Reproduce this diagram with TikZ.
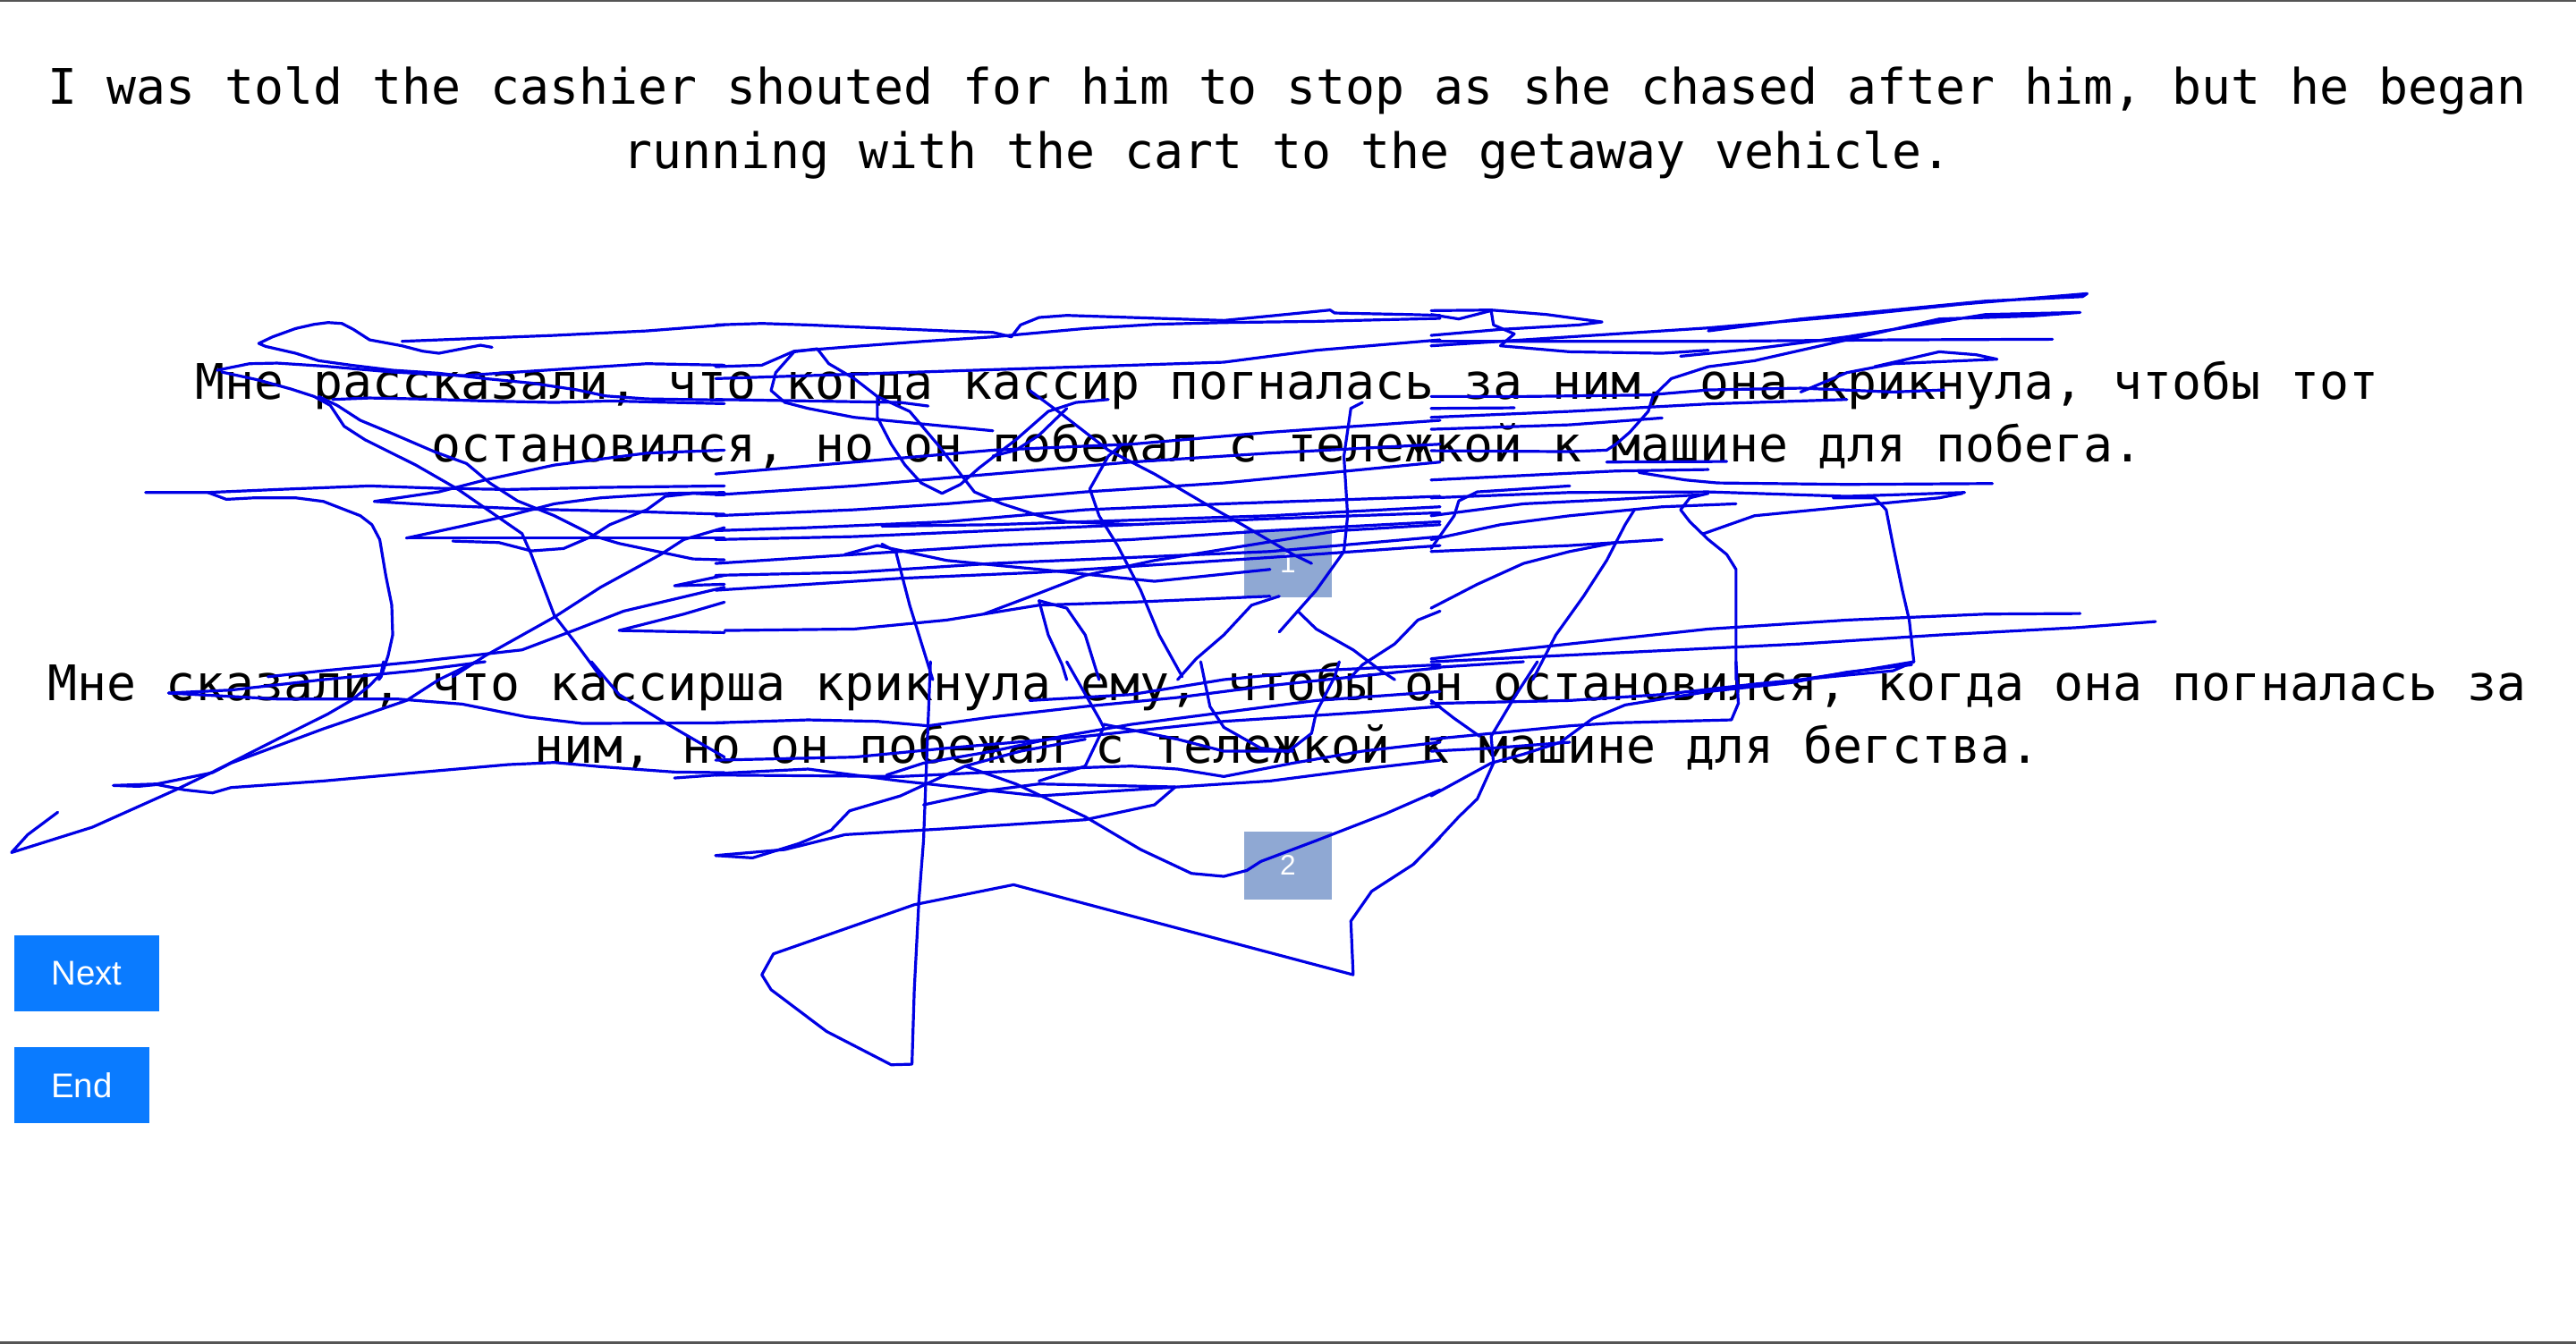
\documentclass[tikz,border=0pt]{standalone}
\usepackage{fontspec}
\setmonofont{DejaVu Sans Mono}
\newfontfamily\btnfont{Liberation Sans}
\definecolor{ink}{RGB}{0,0,228}
\definecolor{btnblue}{RGB}{10,123,255}
\definecolor{numblue}{RGB}{143,168,211}
\definecolor{edgegray}{RGB}{85,85,85}
\tikzset{
  txt/.style={anchor=base,inner sep=0pt,font=\fontsize{13.7}{17}\selectfont\ttfamily},
  numbox/.style={fill=numblue,draw=none,minimum width=24.5pt,minimum height=19pt,inner sep=0pt,text=white,font=\btnfont\fontsize{7.9}{9}\selectfont},
  btn/.style={fill=btnblue,draw=none,minimum height=21.3pt,inner sep=0pt,text=white,font=\btnfont\fontsize{9.6}{11}\selectfont},
  scrib/.style={draw=ink,line width=0.8pt,line join=round,line cap=round},
  zoomA/.style={xscale=0.2812,yscale=0.1815}
}
\begin{document}
\begin{tikzpicture}[x=0.4592pt,y=-0.4592pt]
\useasboundingbox (0,0) rectangle (1568,818);
\fill[white] (0,0) rectangle (1568,818);
\draw[edgegray,line width=0.6pt] (0,0.6) -- (1568,0.6);
\draw[edgegray,line width=0.6pt] (0,817.4) -- (1568,817.4);

% texts
\node[txt] (e1) at (783.5,63.7) {I was told the cashier shouted for him to stop as she chased after him, but he began};
\node[txt] (e2) at (783.5,102.4) {running with the cart to the getaway vehicle.};
\node[txt] (r1) at (783.5,243.3) {Мне рассказали, что когда кассир погналась за ним, она крикнула, чтобы тот};
\node[txt] (r2) at (783.5,281.3) {остановился, но он побежал с тележкой к машине для побега.};
\node[txt] (s1) at (783.5,426.5) {Мне сказали, что кассирша крикнула ему, чтобы он остановился, когда она погналась за};
\node[txt] (s2) at (783.5,464.6) {ним, но он побежал с тележкой к машине для бегства.};

% number boxes
\node[numbox] (b1) at (784,343) {1};
\node[numbox] (b2) at (784,526.8) {2};

% buttons
\node[btn,minimum width=40.5pt] (next) at (52.8,592.7) {Next};
\node[btn,minimum width=37.7pt] (end) at (49.8,660.7) {End};

% scribble, region 1
\begin{scope}[shift={(0,168.8)},zoomA]
\draw[scrib] (1065,235) -- (1040,228) -- (1000,240) -- (950,255) -- (915,248) -- (870,230) -- (800,210) -- (765,175) -- (740,155) -- (710,152) -- (680,158) -- (640,172) -- (590,200) -- (560,222) -- (575,232) -- (640,255) -- (690,280) -- (760,295) -- (850,312) -- (950,322) -- (1050,340) -- (1150,355) -- (1250,378) -- (1310,398) -- (1400,408) -- (1568,412);
\draw[scrib] (870,215) -- (1000,207) -- (1200,195) -- (1400,180) -- (1500,168) -- (1568,160);
\draw[scrib] (470,312) -- (540,290) -- (600,288) -- (700,298) -- (850,318) -- (1000,330) -- (1200,310) -- (1400,290) -- (1568,295);
\draw[scrib] (480,318) -- (560,345) -- (630,375) -- (680,400) -- (715,430) -- (745,500) -- (790,545) -- (900,630) -- (990,710) -- (1060,785) -- (1130,860) -- (1150,930) -- (1200,1135) -- (1250,1235) -- (1300,1340);
\draw[scrib] (690,400) -- (730,430) -- (780,480) -- (850,525) -- (940,585) -- (1010,625) -- (1060,690) -- (1120,750) -- (1200,800) -- (1290,870) -- (1340,893) -- (1500,945) -- (1568,948);
\draw[scrib] (720,410) -- (800,405) -- (900,408) -- (1050,415) -- (1200,420) -- (1320,415) -- (1568,424);
\draw[scrib] (315,722) -- (450,722) -- (600,712) -- (800,700) -- (950,708) -- (1100,712) -- (1300,705) -- (1568,700);
\draw[scrib] (450,722) -- (490,745) -- (550,740) -- (640,740) -- (700,752) -- (780,800) -- (805,830) -- (822,880) -- (835,1000) -- (848,1100) -- (850,1200) -- (840,1270) -- (825,1340) -- (820,1350);
\draw[scrib] (1568,580) -- (1400,590) -- (1200,630) -- (1050,680) -- (950,720) -- (810,752) -- (950,765) -- (1150,778) -- (1350,785) -- (1568,795);
\draw[scrib] (880,875) -- (1000,835) -- (1100,800) -- (1200,760) -- (1300,740) -- (1450,725) -- (1568,722);
\draw[scrib] (880,875) -- (1200,875) -- (1568,875);
\draw[scrib] (980,885) -- (1080,890) -- (1150,918) -- (1220,910) -- (1280,870) -- (1320,830) -- (1400,780) -- (1440,735) -- (1500,725) -- (1568,730);
\draw[scrib] (1568,1000) -- (1460,1035) -- (1568,1030);
\draw[scrib] (1568,1090) -- (1480,1130) -- (1340,1185) -- (1568,1192);
\draw[scrib] (1568,1040) -- (1350,1120) -- (1250,1180) -- (1130,1250) -- (900,1290) -- (700,1320) -- (580,1340);
\draw[scrib] (1568,840) -- (1480,880) -- (1430,930) -- (1300,1040) -- (1200,1140) -- (1050,1270) -- (980,1340);
\end{scope}

% region 2
\begin{scope}[shift={(435.6,168.8)},zoomA]
\draw[scrib] (0,160) -- (100,155) -- (200,160) -- (350,170) -- (500,180) -- (600,185) -- (640,200) -- (660,160) -- (700,135) -- (760,128) -- (900,135) -- (1000,140) -- (1100,145) -- (1200,130) -- (1330,110) -- (1340,120) -- (1500,125) -- (1568,128);
\draw[scrib] (0,300) -- (100,295) -- (170,248) -- (300,232) -- (450,215) -- (600,200) -- (800,172) -- (950,158) -- (1100,152) -- (1300,148) -- (1568,138);
\draw[scrib] (220,240) -- (170,250) -- (130,320) -- (120,380) -- (150,420) -- (200,440) -- (300,470) -- (400,485) -- (500,500) -- (600,515);
\draw[scrib] (220,240) -- (245,290) -- (300,340) -- (350,400) -- (350,470) -- (380,560) -- (410,630) -- (445,690) -- (490,725) -- (530,695) -- (570,640) -- (650,545) -- (720,450) -- (780,420) -- (850,410);
\draw[scrib] (0,410) -- (200,415) -- (400,420) -- (460,432);
\draw[scrib] (350,400) -- (420,450) -- (480,560) -- (520,640) -- (560,720) -- (620,760) -- (700,800) -- (760,820) -- (900,830);
\draw[scrib] (680,380) -- (750,460) -- (850,580) -- (950,660) -- (1060,760) -- (1140,830) -- (1250,930) -- (1290,960);
\draw[scrib] (880,560) -- (850,600) -- (810,710) -- (830,800) -- (870,900) -- (920,1050) -- (960,1200) -- (1010,1340);
\draw[scrib] (760,440) -- (700,530) -- (650,580) -- (600,600);
\draw[scrib] (0,660) -- (300,620) -- (600,580) -- (900,560) -- (1200,520) -- (1568,480);
\draw[scrib] (0,730) -- (300,700) -- (600,660) -- (900,620) -- (1200,590) -- (1568,560);
\draw[scrib] (0,800) -- (300,780) -- (500,760) -- (800,720) -- (1100,690) -- (1300,660) -- (1568,620);
\draw[scrib] (0,850) -- (200,840) -- (500,820) -- (800,780) -- (1100,760) -- (1568,735);
\draw[scrib] (0,880) -- (300,870) -- (600,850) -- (900,830) -- (1200,810) -- (1568,790);
\draw[scrib] (360,835) -- (600,830) -- (900,815) -- (1200,800) -- (1568,770);
\draw[scrib] (0,960) -- (300,930) -- (600,900) -- (900,880) -- (1200,850) -- (1568,820);
\draw[scrib] (0,1000) -- (300,990) -- (600,960) -- (900,940) -- (1200,920) -- (1568,870);
\draw[scrib] (280,930) -- (350,900) -- (500,950) -- (700,980) -- (950,1020) -- (1200,980);
\draw[scrib] (0,1050) -- (400,1010) -- (700,990) -- (1000,960) -- (1200,940) -- (1568,900);
\draw[scrib] (20,1185) -- (300,1180) -- (500,1150) -- (700,1100) -- (900,1090) -- (1200,1070);
\draw[scrib] (580,1130) -- (700,1060) -- (800,1000) -- (950,950) -- (1150,900) -- (1350,850) -- (1568,830);
\draw[scrib] (360,895) -- (390,920) -- (420,1100) -- (450,1250) -- (470,1350);
\draw[scrib] (700,1085) -- (760,1110) -- (800,1200) -- (830,1350);
\draw[scrib] (700,1085) -- (720,1200) -- (750,1300) -- (760,1350);
\draw[scrib] (1220,1070) -- (1160,1100) -- (1100,1200) -- (1040,1280) -- (1000,1350);
\draw[scrib] (1220,1190) -- (1300,1050) -- (1360,920) -- (1368,800) -- (1360,600) -- (1375,440) -- (1400,420);
\draw[scrib] (1260,1120) -- (1300,1180) -- (1380,1250) -- (1440,1320) -- (1470,1350);
\draw[scrib] (1568,1120) -- (1520,1150) -- (1470,1230) -- (1400,1300) -- (1370,1350);
\draw[scrib] (0,340) -- (400,320) -- (800,300) -- (1100,285) -- (1300,245) -- (1568,210);
\end{scope}

% region 3
\begin{scope}[shift={(871.1,168.8)},zoomA]
\draw[scrib] (0,125) -- (60,140) -- (130,112) -- (135,160) -- (180,190) -- (150,230) -- (300,250) -- (500,255) -- (600,245);
\draw[scrib] (0,112) -- (130,110) -- (250,125) -- (370,150) -- (320,160) -- (150,175) -- (0,195);
\draw[scrib] (0,230) -- (300,200) -- (600,170) -- (900,130) -- (1150,90) -- (1420,55) -- (1410,65) -- (1200,80) -- (1000,110) -- (800,140) -- (600,180);
\draw[scrib] (540,265) -- (700,240) -- (900,200) -- (1100,150) -- (1200,125) -- (1405,118) -- (1300,130) -- (1100,140) -- (900,210) -- (700,280) -- (600,300) -- (520,340) -- (480,400) -- (470,450) -- (430,520) -- (400,560) -- (380,580) -- (300,585) -- (0,582);
\draw[scrib] (0,215) -- (300,215) -- (600,215) -- (1000,210) -- (1345,208);
\draw[scrib] (960,300) -- (1100,250) -- (1180,260) -- (1225,275) -- (1000,290) -- (900,320) -- (800,385);
\draw[scrib] (0,400) -- (200,400) -- (470,395) -- (600,378) -- (800,372) -- (1000,385) -- (1110,378);
\draw[scrib] (0,440) -- (180,438);
\draw[scrib] (0,470) -- (300,450) -- (600,425) -- (900,410);
\draw[scrib] (0,510) -- (300,495) -- (500,472);
\draw[scrib] (380,620) -- (640,618);
\draw[scrib] (0,680) -- (200,665) -- (400,650) -- (600,645);
\draw[scrib] (450,655) -- (550,680) -- (620,690) -- (900,695) -- (1215,692);
\draw[scrib] (0,740) -- (300,722) -- (600,720) -- (900,735) -- (1155,722);
\draw[scrib] (600,725) -- (560,740) -- (540,780) -- (560,820) -- (600,880) -- (640,930) -- (660,980) -- (660,1350);
\draw[scrib] (590,860) -- (700,800) -- (900,770) -- (1100,740) -- (1150,725);
\draw[scrib] (870,740) -- (960,740) -- (985,780) -- (1000,900) -- (1020,1050) -- (1035,1150) -- (1045,1290) -- (1000,1320) -- (830,1345);
\draw[scrib] (440,780) -- (420,830) -- (380,950) -- (330,1070) -- (270,1200) -- (220,1350);
\draw[scrib] (0,880) -- (150,830) -- (300,800) -- (500,770) -- (660,760);
\draw[scrib] (0,920) -- (300,900) -- (500,880);
\draw[scrib] (0,1110) -- (100,1030) -- (200,960) -- (300,920) -- (400,890);
\draw[scrib] (0,910) -- (50,800) -- (60,750) -- (100,720) -- (300,700);
\draw[scrib] (0,1280) -- (300,1230) -- (600,1180) -- (900,1150) -- (1200,1130) -- (1405,1128);
\draw[scrib] (0,1290) -- (400,1260) -- (800,1230) -- (1100,1200) -- (1400,1175) -- (1568,1155);
\draw[scrib] (0,800) -- (200,760) -- (400,745) -- (580,730);
\end{scope}

% region 4
\begin{scope}[shift={(0,402.9)},zoomA]
\draw[scrib] (830,0) -- (825,40) -- (800,80) -- (760,130) -- (710,175) -- (600,260) -- (460,370) -- (380,430) -- (200,555) -- (25,640) -- (60,580) -- (125,505);
\draw[scrib] (1030,0) -- (950,60) -- (880,130) -- (700,225) -- (500,340) -- (460,372) -- (340,410) -- (245,415) -- (300,418) -- (340,412) -- (400,430) -- (460,440) -- (500,422) -- (700,400) -- (900,372) -- (1100,345) -- (1200,338) -- (1300,352) -- (1460,370) -- (1568,372);
\draw[scrib] (1460,390) -- (1568,378);
\draw[scrib] (365,105) -- (500,95) -- (700,60) -- (900,30) -- (1050,0);
\draw[scrib] (365,105) -- (600,125) -- (860,125) -- (1000,142) -- (1140,185) -- (1260,207) -- (1568,205);
\draw[scrib] (1280,0) -- (1340,110) -- (1440,205) -- (1568,320);
\end{scope}

% region 5
\begin{scope}[shift={(435.6,402.9)},zoomA]
\draw[scrib] (465,0) -- (460,200) -- (455,400) -- (450,600) -- (440,800) -- (430,1100) -- (425,1350) -- (380,1352) -- (240,1240) -- (120,1100) -- (100,1050) -- (125,980) -- (430,815) -- (645,748) -- (1380,1050) -- (1375,870) -- (1420,770) -- (1510,680) -- (1568,590);
\draw[scrib] (0,650) -- (80,658) -- (180,610) -- (250,565) -- (290,500) -- (400,450) -- (540,350) -- (660,300) -- (800,260);
\draw[scrib] (0,650) -- (150,630) -- (280,580) -- (500,560) -- (800,530) -- (950,480) -- (995,420) -- (700,410) -- (600,430) -- (450,480);
\draw[scrib] (540,350) -- (650,410) -- (800,520) -- (920,630) -- (1030,710) -- (1100,720) -- (1150,700) -- (1180,670) -- (1300,600) -- (1450,510) -- (1568,430);
\draw[scrib] (0,205) -- (200,195) -- (350,200) -- (460,215) -- (600,185) -- (800,150) -- (1000,120) -- (1200,80) -- (1568,20);
\draw[scrib] (680,130) -- (900,110) -- (1100,60) -- (1300,30) -- (1568,10);
\draw[scrib] (370,380) -- (450,340) -- (600,300) -- (750,250) -- (900,210) -- (1100,170) -- (1300,130) -- (1568,100);
\draw[scrib] (0,375) -- (200,360) -- (400,400) -- (700,450) -- (1000,420) -- (1200,400) -- (1400,360) -- (1568,330);
\draw[scrib] (760,0) -- (830,190) -- (840,220) -- (800,350) -- (700,400);
\draw[scrib] (1050,0) -- (1070,150) -- (1100,220) -- (1180,290) -- (1240,300) -- (1290,240) -- (1300,170) -- (1340,50) -- (1350,0);
\draw[scrib] (840,210) -- (1000,260) -- (1100,300) -- (1250,300);
\draw[scrib] (1568,270) -- (1400,300) -- (1250,340) -- (1100,385) -- (1000,360) -- (900,350) -- (800,355) -- (600,370) -- (400,385) -- (0,380);
\draw[scrib] (0,330) -- (300,320) -- (500,290) -- (800,250) -- (1100,200) -- (1400,170) -- (1568,150);
\end{scope}

% region 6
\begin{scope}[shift={(871.1,402.9)},zoomA]
\draw[scrib] (0,140) -- (300,130) -- (500,110) -- (700,75) -- (800,60) -- (950,25) -- (1045,0);
\draw[scrib] (660,0) -- (665,140) -- (650,195) -- (400,205) -- (300,215) -- (0,260);
\draw[scrib] (230,0) -- (180,120) -- (130,250) -- (135,340) -- (100,460) -- (60,520) -- (0,620);
\draw[scrib] (0,450) -- (130,340) -- (200,310) -- (280,270) -- (350,190) -- (420,145) -- (600,100) -- (780,70) -- (900,35) -- (1040,10);
\draw[scrib] (0,130) -- (50,190) -- (105,250);
\draw[scrib] (0,300) -- (130,290) -- (300,270);
\draw[scrib] (0,20) -- (200,0);
\end{scope}
\end{tikzpicture}
\end{document}
